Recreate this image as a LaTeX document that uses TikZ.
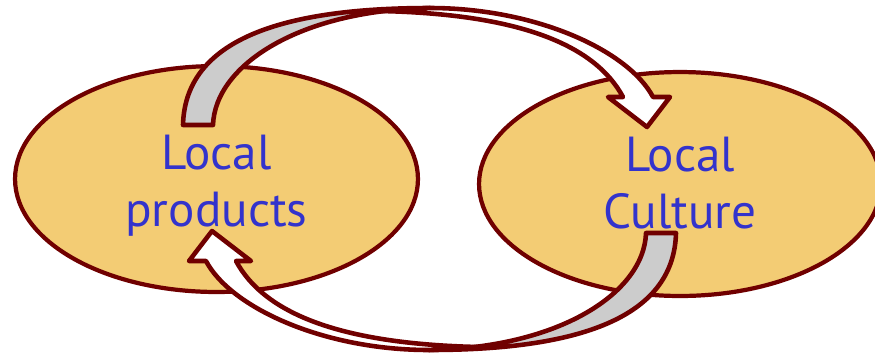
\documentclass[tikz,border=0pt]{standalone}
\usepackage{fontspec}
\setsansfont{PT Sans}
\usetikzlibrary{shapes.geometric}
\definecolor{sand}{HTML}{F3CC74}
\definecolor{maroon}{HTML}{700000}
\definecolor{ink}{HTML}{3333CC}
\definecolor{shade}{HTML}{CCCCCC}

\begin{document}
\begin{tikzpicture}[x=0.02cm, y=-0.02cm,
  blob/.style={ellipse, draw=maroon, fill=sand, line width=2.4pt, inner sep=0pt},
  word/.style={text=ink, font=\sffamily\fontsize{28}{32.4}\selectfont, align=center},
  band/.style={draw=maroon, line width=2.6pt, line join=round}]
\useasboundingbox (0,0) rectangle (875,353);

\node[blob, minimum width=8.06cm, minimum height=4.52cm] (prod) at (216.5,179) {};
\node[blob, minimum width=8.04cm, minimum height=4.48cm] (cult) at (680,184) {};
\node[word] (prodtxt) at (216.5,185.5) {Local\\products};
\node[word] (culttxt) at (680,183) {Local\\Culture};

% the two curved arrows, the second one turned half way round
\foreach \turn in {0,180} {
  \begin{scope}[rotate around={\turn:(429.5,179)}]
    \draw[band, fill=shade] (183,125) .. controls (185,45) and (270,8) .. (430,8)
      .. controls (300,10) and (215,65) .. (213,125) -- cycle;
    \draw[band, fill=white] (430,8) .. controls (535,8) and (628,50) .. (653,97)
      -- (670,97) -- (647,127) -- (608,97) -- (623,97)
      .. controls (595,45) and (520,14) .. (380,11) -- cycle;
  \end{scope}
}
\end{tikzpicture}
\end{document}
